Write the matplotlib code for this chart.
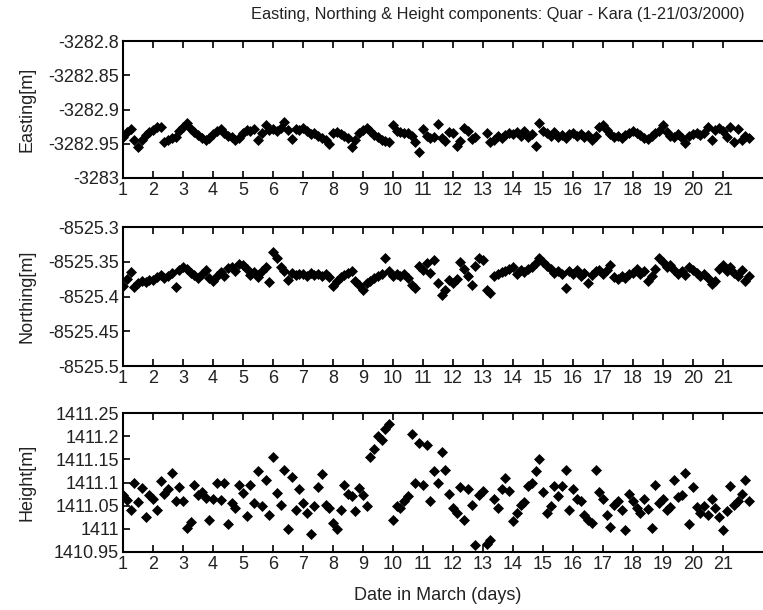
import numpy as np
import matplotlib
matplotlib.use('Agg')
import matplotlib.pyplot as plt
from matplotlib.ticker import FuncFormatter

plt.rcParams['font.family'] = ['Liberation Sans', 'DejaVu Sans']

nan = np.nan

# one row per day (1..21), 8 epochs per day (every 3 hours)
easting = np.array([
    [-3282.940, -3282.933, -3282.928, -3282.945, -3282.955, -3282.945, -3282.937, -3282.933],
    [-3282.930, -3282.926, -3282.925, -3282.948, -3282.944, -3282.942, -3282.940, -3282.932],
    [-3282.925, -3282.920, -3282.928, -3282.933, -3282.937, -3282.942, -3282.945, -3282.941],
    [-3282.936, -3282.931, -3282.929, -3282.934, -3282.938, -3282.940, -3282.944, -3282.942],
    [-3282.934, -3282.930, -3282.932, -3282.928, -3282.945, -3282.935, -3282.922, -3282.930],
    [-3282.929, -3282.931, -3282.927, -3282.918, -3282.930, -3282.943, -3282.928, -3282.930],
    [-3282.927, -3282.932, -3282.936, -3282.934, -3282.938, -3282.942, -3282.945, -3282.951],
    [-3282.935, -3282.933, -3282.936, -3282.938, -3282.942, -3282.955, -3282.944, -3282.935],
    [-3282.930, -3282.927, -3282.932, -3282.937, -3282.940, -3282.944, -3282.946, -3282.947],
    [-3282.922, -3282.932, -3282.933, -3282.935, -3282.934, -3282.938, -3282.948, -3282.962],
    [-3282.929, -3282.939, -3282.942, -3282.940, -3282.921, -3282.942, -3282.946, -3282.933],
    [-3282.935, -3282.953, -3282.946, -3282.927, -3282.932, -3282.943, -3282.940, nan],
    [nan, -3282.934, -3282.948, -3282.944, -3282.938, -3282.941, -3282.937, -3282.934],
    [-3282.936, -3282.933, -3282.938, -3282.931, -3282.940, -3282.936, -3282.953, -3282.920],
    [-3282.931, -3282.934, -3282.938, -3282.933, -3282.940, -3282.937, -3282.942, -3282.936],
    [-3282.935, -3282.939, -3282.936, -3282.940, -3282.937, -3282.944, -3282.938, -3282.926],
    [-3282.922, -3282.930, -3282.936, -3282.940, -3282.939, -3282.942, -3282.937, -3282.935],
    [-3282.931, -3282.934, -3282.937, -3282.941, -3282.943, -3282.938, -3282.935, -3282.932],
    [-3282.922, -3282.933, -3282.938, -3282.940, -3282.936, -3282.941, -3282.949, -3282.939],
    [-3282.936, -3282.934, -3282.937, -3282.935, -3282.926, -3282.944, -3282.930, -3282.927],
    [-3282.931, -3282.940, -3282.926, -3282.948, -3282.929, -3282.944, -3282.938, -3282.941],
])

northing = np.array([
    [-8525.385, -8525.375, -8525.365, -8525.386, -8525.380, -8525.377, -8525.379, -8525.376],
    [-8525.376, -8525.372, -8525.369, -8525.374, -8525.371, -8525.366, -8525.386, -8525.362],
    [-8525.358, -8525.360, -8525.366, -8525.369, -8525.373, -8525.368, -8525.362, -8525.374],
    [-8525.377, -8525.370, -8525.365, -8525.370, -8525.359, -8525.357, -8525.364, -8525.353],
    [-8525.355, -8525.361, -8525.369, -8525.365, -8525.372, -8525.363, -8525.358, -8525.379],
    [-8525.336, -8525.345, -8525.358, -8525.364, -8525.376, -8525.366, -8525.369, -8525.367],
    [-8525.368, -8525.370, -8525.366, -8525.369, -8525.367, -8525.371, -8525.368, -8525.372],
    [-8525.385, -8525.377, -8525.372, -8525.369, -8525.366, -8525.364, -8525.378, -8525.384],
    [-8525.390, -8525.381, -8525.377, -8525.373, -8525.370, -8525.367, -8525.345, -8525.364],
    [-8525.370, -8525.368, -8525.371, -8525.367, -8525.373, -8525.384, -8525.388, -8525.356],
    [-8525.362, -8525.352, -8525.366, -8525.347, -8525.380, -8525.398, -8525.390, -8525.376],
    [-8525.381, -8525.375, -8525.350, -8525.360, -8525.371, -8525.384, -8525.356, -8525.345],
    [-8525.348, -8525.391, -8525.395, -8525.370, -8525.367, -8525.365, -8525.363, -8525.360],
    [-8525.358, -8525.368, -8525.362, -8525.365, -8525.360, -8525.357, -8525.352, -8525.345],
    [-8525.350, -8525.356, -8525.360, -8525.366, -8525.363, -8525.368, -8525.388, -8525.364],
    [-8525.367, -8525.362, -8525.371, -8525.366, -8525.380, -8525.369, -8525.364, -8525.362],
    [-8525.368, -8525.362, -8525.354, -8525.372, -8525.375, -8525.370, -8525.373, -8525.368],
    [-8525.366, -8525.361, -8525.368, -8525.364, -8525.378, -8525.370, -8525.360, -8525.345],
    [-8525.350, -8525.357, -8525.355, -8525.362, -8525.368, -8525.364, -8525.369, -8525.358],
    [-8525.362, -8525.366, -8525.371, -8525.368, -8525.373, -8525.382, -8525.377, -8525.360],
    [-8525.355, -8525.363, -8525.358, -8525.366, -8525.371, -8525.362, -8525.378, -8525.370],
])

height = np.array([
    [1411.072, 1411.062, 1411.040, 1411.100, 1411.058, 1411.088, 1411.025, 1411.074],
    [1411.065, 1411.040, 1411.104, 1411.076, 1411.085, 1411.120, 1411.060, 1411.090],
    [1411.060, 1411.002, 1411.014, 1411.095, 1411.074, 1411.080, 1411.066, 1411.018],
    [1411.064, 1411.100, 1411.062, 1411.098, 1411.010, 1411.055, 1411.045, 1411.095],
    [1411.078, 1411.028, 1411.095, 1411.055, 1411.125, 1411.050, 1411.105, 1411.030],
    [1411.155, 1411.078, 1411.052, 1411.128, 1411.000, 1411.112, 1411.040, 1411.085],
    [1411.056, 1411.035, 1410.988, 1411.050, 1411.090, 1411.118, 1411.052, 1411.045],
    [1411.012, 1411.000, 1411.040, 1411.095, 1411.075, 1411.070, 1411.038, 1411.088],
    [1411.074, 1411.050, 1411.155, 1411.172, 1411.200, 1411.192, 1411.215, 1411.226],
    [1411.020, 1411.050, 1411.045, 1411.060, 1411.070, 1411.205, 1411.100, 1411.185],
    [1411.095, 1411.180, 1411.060, 1411.125, 1411.100, 1411.165, 1411.128, 1411.075],
    [1411.045, 1411.035, 1411.090, 1411.020, 1411.085, 1411.052, 1410.966, 1411.072],
    [1411.082, 1410.968, 1410.975, 1411.065, 1411.045, 1411.085, 1411.110, 1411.082],
    [1411.016, 1411.035, 1411.052, 1411.058, 1411.092, 1411.100, 1411.125, 1411.150],
    [1411.080, 1411.035, 1411.050, 1411.092, 1411.070, 1411.092, 1411.127, 1411.040],
    [1411.085, 1411.065, 1411.060, 1411.030, 1411.020, 1411.012, 1411.128, 1411.080],
    [1411.065, 1411.030, 1411.005, 1411.052, 1411.060, 1411.040, 1410.998, 1411.075],
    [1411.060, 1411.045, 1411.035, 1411.065, 1411.042, 1411.002, 1411.095, 1411.055],
    [1411.065, 1411.040, 1411.048, 1411.105, 1411.068, 1411.072, 1411.120, 1411.010],
    [1411.090, 1411.048, 1411.035, 1411.050, 1411.030, 1411.065, 1411.045, 1411.025],
    [1410.997, 1411.038, 1411.092, 1411.052, 1411.060, 1411.075, 1411.105, 1411.060],
])

days = np.arange(1, 22)
epochs_per_day = 8
t = (days[:, None] + np.arange(epochs_per_day)[None, :] / epochs_per_day).ravel()

labels = ['Easting[m]', 'Northing[m]', 'Height[m]']
ylims = [(-3283.0, -3282.8), (-8525.5, -8525.3), (1410.95, 1411.25)]
ysteps = [0.05, 0.05, 0.05]
series = [easting, northing, height]

fig = plt.figure(figsize=(7.63, 6.10), dpi=100)

# panel boxes in pixels (top, bottom), image is 763x610
boxes = [(41, 178), (227, 366), (413, 552)]
left_px = 123
px_per_day = 30.0
width_frac = 1.03 - left_px / 763

for i, (vals, lab, yl, step, (top, bot)) in enumerate(zip(series, labels, ylims, ysteps, boxes)):
    ax = fig.add_axes([left_px / 763, 1 - bot / 610, width_frac, (bot - top) / 610])
    ax.plot(t, vals.ravel(), 'D', color='black', markersize=5.3, markeredgewidth=0.5,
            linestyle='none')
    ax.set_xlim(1, 1 + width_frac * 763 / px_per_day)
    ax.set_ylim(*yl)
    ax.set_xticks(days)
    ax.set_yticks(np.arange(yl[0], yl[1] + step / 2, step))
    ax.yaxis.set_major_formatter(FuncFormatter(lambda v, p: '{:.6g}'.format(v)))
    ax.tick_params(direction='in', top=True, right=False, length=5, width=1.2,
                   labelsize=13, pad=3, colors='black', labelcolor='#222222')
    for side in ['top', 'bottom', 'left']:
        ax.spines[side].set_linewidth(1.5)
    ax.spines['right'].set_visible(False)
    cy = 1 - (top + bot) / 2 / 610
    fig.text(27 / 763, cy, lab, rotation=90, ha='center', va='center',
             fontsize=13, color='#222222')

fig.text(498 / 763, 1 - 14 / 610,
         'Easting, Northing & Height components: Quar - Kara (1-21/03/2000)',
         ha='center', va='center', fontsize=11.8, color='#222222')
fig.text(438 / 763, 1 - 595 / 610, 'Date in March (days)',
         ha='center', va='center', fontsize=13, color='#222222')

fig.savefig('out.png', dpi=100, facecolor='white')
